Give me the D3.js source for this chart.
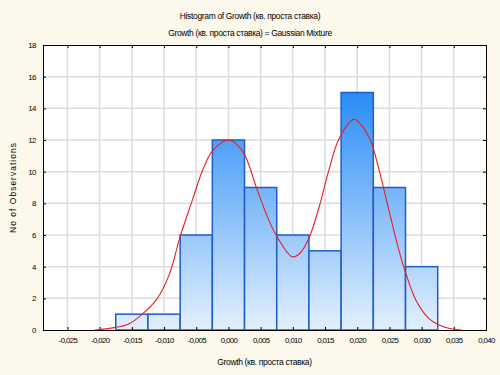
<!DOCTYPE html>
<html>
<head>
<meta charset="utf-8">
<script src="https://cdn.jsdelivr.net/npm/d3@7"></script>
<style>
    body { margin: 0; background: #fdf8ec; }
    text { font-family: "Liberation Sans", Arial, sans-serif; fill: #000; }
</style>
</head>
<body>
<div id="chart"></div>
<script>
const binCenters = [-0.015, -0.010, -0.005, 0.000, 0.005, 0.010, 0.015, 0.020, 0.025, 0.030];
const binCounts = [1, 1, 6, 12, 9, 6, 5, 15, 9, 4];
const binWidth = 0.005;

// fitted mixture curve
const curveX = [-0.0208, -0.0177, -0.0154, -0.0134, -0.0112, -0.0092, -0.0075, -0.0056, -0.0040, -0.0025,
    0.0000, 0.0022, 0.0043, 0.0058, 0.0074, 0.0099, 0.0110, 0.0125, 0.0141, 0.0156, 0.0172, 0.0195,
    0.0218, 0.0234, 0.0249, 0.0265, 0.0273, 0.0291, 0.0311, 0.0327, 0.0348, 0.0363];
const curveY = [0, 0.15, 0.4, 1.0, 1.9, 3.5, 5.9, 8.2, 10.1, 11.3,
    12.0, 11.3, 9.05, 7.4, 6.0, 4.63, 4.8, 5.8, 7.8, 10.1, 12.1, 13.3,
    12.2, 10.1, 7.6, 5.0, 3.9, 1.9, 0.74, 0.32, 0.06, 0];

const xTicks = [-0.025, -0.020, -0.015, -0.010, -0.005, 0.000, 0.005, 0.010, 0.015, 0.020, 0.025, 0.030, 0.035, 0.040];
const yTicks = [0, 2, 4, 6, 8, 10, 12, 14, 16, 18];

const title = "Histogram of Growth (кв. проста ставка)";
const subtitle = "Growth (кв. проста ставка) = Gaussian Mixture";
const xTitle = "Growth (кв. проста ставка)";
const yTitle = "No of Observations";

const width = 500, height = 375;
const margin = { top: 45, right: 14, bottom: 45, left: 43 };

const svg = d3.select("#chart").append("svg")
    .attr("width", width)
    .attr("height", height);

svg.append("rect").attr("width", width).attr("height", height).attr("fill", "#fdf8ec");

const x = d3.scaleLinear().domain([-0.0288, 0.040]).range([margin.left, width - margin.right]);
const y = d3.scaleLinear().domain([0, 18]).range([height - margin.bottom, margin.top]);

const defs = svg.append("defs");
const grad = defs.append("linearGradient")
    .attr("id", "barGrad")
    .attr("gradientUnits", "userSpaceOnUse")
    .attr("x1", 0).attr("x2", 0)
    .attr("y1", y(15)).attr("y2", y(0));
grad.append("stop").attr("offset", "0%").attr("stop-color", "#2a8cf6");
grad.append("stop").attr("offset", "100%").attr("stop-color", "#e3f0fd");

// plot background
svg.append("rect")
    .attr("x", margin.left).attr("y", margin.top)
    .attr("width", width - margin.left - margin.right)
    .attr("height", height - margin.top - margin.bottom)
    .attr("fill", "#fff");

// grid
svg.append("g")
    .selectAll("line")
    .data(xTicks.slice(0, -1))
    .enter().append("line")
    .attr("x1", d => x(d)).attr("x2", d => x(d))
    .attr("y1", y(18)).attr("y2", y(0))
    .attr("stroke", "#dcdcdc").attr("stroke-width", 1.5);

svg.append("g")
    .selectAll("line")
    .data(yTicks.slice(1, -1))
    .enter().append("line")
    .attr("x1", x.range()[0]).attr("x2", x.range()[1])
    .attr("y1", d => y(d)).attr("y2", d => y(d))
    .attr("stroke", "#dcdcdc").attr("stroke-width", 1.5);

// bars
svg.append("g")
    .selectAll("rect")
    .data(binCenters)
    .enter().append("rect")
    .attr("x", d => x(d - binWidth / 2))
    .attr("width", d => x(d + binWidth / 2) - x(d - binWidth / 2))
    .attr("y", (d, i) => y(binCounts[i]))
    .attr("height", (d, i) => y(0) - y(binCounts[i]))
    .attr("fill", "url(#barGrad)")
    .attr("stroke", "#1f5cc9")
    .attr("stroke-width", 1.5);

// axes with inward ticks on all sides
const fmt = d => d3.format(".3f")(d).replace("−", "-").replace(".", ",");

svg.append("g")
    .attr("transform", `translate(0,${y(0)})`)
    .call(d3.axisBottom(x).tickValues(xTicks).tickSize(-3).tickPadding(7).tickFormat(fmt))
    .call(g => g.selectAll("text").attr("font-size", 7.8).attr("letter-spacing", -0.6));

svg.append("g")
    .attr("transform", `translate(0,${y(18)})`)
    .call(d3.axisTop(x).tickValues(xTicks).tickSize(-3).tickFormat(""));

svg.append("g")
    .attr("transform", `translate(${x.range()[0]},0)`)
    .call(d3.axisLeft(y).tickValues(yTicks).tickSize(-3).tickPadding(7))
    .call(g => g.selectAll("text").attr("font-size", 7.8).attr("letter-spacing", -0.4));

svg.append("g")
    .attr("transform", `translate(${x.range()[1]},0)`)
    .call(d3.axisRight(y).tickValues(yTicks).tickSize(-3).tickFormat(""));

svg.selectAll(".domain").attr("stroke", "#000");
svg.selectAll(".tick line").attr("stroke", "#000");

// fitted curve
const line = d3.line()
    .x(d => x(d))
    .y((d, i) => y(curveY[i]))
    .curve(d3.curveCatmullRom.alpha(0.5));

svg.append("path")
    .datum(curveX)
    .attr("d", line)
    .attr("fill", "none")
    .attr("stroke", "#ee1c1c")
    .attr("stroke-width", 1.1);

// titles
svg.append("text")
    .attr("x", 250).attr("y", 19)
    .attr("text-anchor", "middle")
    .attr("font-size", 8.5)
    .attr("letter-spacing", -0.35)
    .text(title);

svg.append("text")
    .attr("x", 250).attr("y", 36)
    .attr("text-anchor", "middle")
    .attr("font-size", 8.5)
    .attr("letter-spacing", -0.35)
    .text(subtitle);

svg.append("text")
    .attr("x", (x.range()[0] + x.range()[1]) / 2).attr("y", 365)
    .attr("text-anchor", "middle")
    .attr("font-size", 8.5)
    .attr("letter-spacing", -0.35)
    .text(xTitle);

svg.append("text")
    .attr("transform", `translate(16,${(y(0) + y(18)) / 2}) rotate(-90)`)
    .attr("text-anchor", "middle")
    .attr("font-size", 8.5)
    .attr("letter-spacing", 1)
    .text(yTitle);
</script>
</body>
</html>
